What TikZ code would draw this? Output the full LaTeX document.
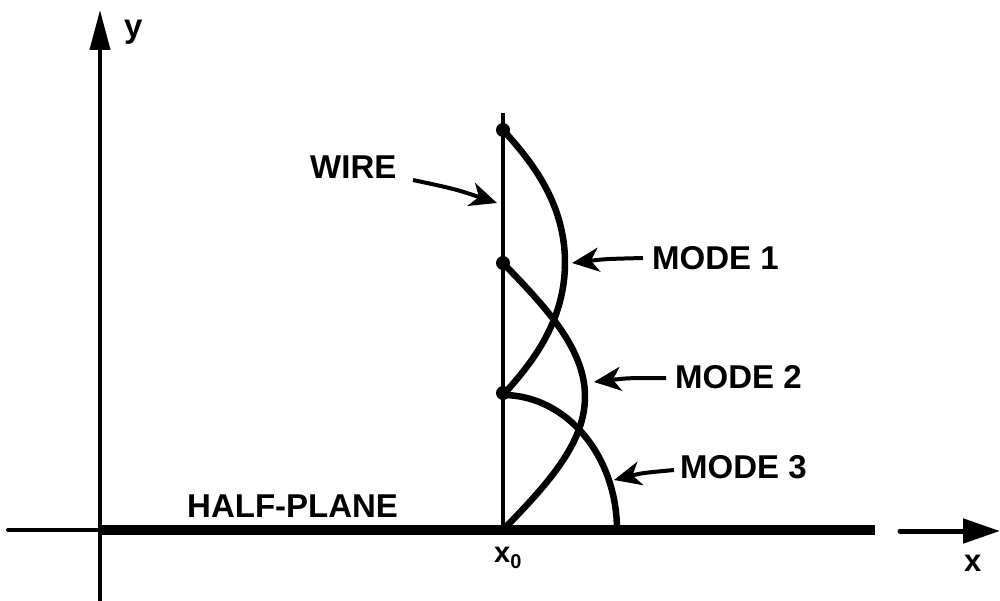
\documentclass[tikz,border=0pt]{standalone}
\usepackage{fontspec}
\setmainfont{Liberation Sans}
\usetikzlibrary{arrows.meta}
\begin{document}
\begin{tikzpicture}[x=1pt,y=-1pt,
  lbl/.style={font=\fontsize{33}{36}\selectfont\bfseries, inner sep=0pt, anchor=base west},
  axisline/.style={line width=4pt},
  mode/.style={line width=6.5pt, line cap=round},
  pointer/.style={line width=4pt, -{Stealth[length=27pt,width=24pt,inset=8pt]}},
  dot/.style={circle, fill, inner sep=0pt, minimum size=14pt}]
\useasboundingbox (0,0) rectangle (1000,601);
\fill[white] (0,0) rectangle (1000,601);

% axes
\coordinate (ybot) at (100,601);
\coordinate (ytop) at (100,10);
\draw[axisline, -{Triangle[length=40pt,width=20pt]}] (ybot) -- (ytop);
\coordinate (xl) at (8,530);
\coordinate (o) at (100,530);
\coordinate (hpend) at (875,530);
\draw[axisline, line cap=round] (xl) -- (o);
\draw[line width=10pt] (o) -- (hpend);
\coordinate (xs) at (900,531);
\coordinate (xe) at (1000,531);
\draw[line width=5pt, line cap=round, -{Triangle[length=37pt,width=24pt]}] (xs) -- (xe);

% wire
\coordinate (wtop) at (503,113);
\coordinate (wbot) at (503,530);
\draw[line width=3.2pt] (wtop) -- (wbot);

% modes
\draw[mode] plot[domain=0:180, samples=80] ({503+62*sin(\x)*(1.25-0.25*sin(\x))}, {130+\x/180*265});
\draw[mode] plot[domain=0:180, samples=80] ({503+82*sin(\x)}, {263+\x/180*267});
\draw[mode] plot[domain=0:90, samples=60] ({503+114*sin(\x)}, {530-135*cos(\x)});

\node[dot] (p1) at (503,130) {};
\node[dot] (p2) at (503,263) {};
\node[dot] (p3) at (503,393) {};

% labels
\node[lbl] (ylab) at (124,38) {y};
\node[lbl] (wire) at (310,179) {WIRE};
\node[lbl] (m1) at (652,270) {MODE 1};
\node[lbl] (m2) at (675,388) {MODE 2};
\node[lbl] (m3) at (680,478) {MODE 3};
\node[lbl] (hp) at (187,517) {HALF-PLANE};
\node[lbl, font=\fontsize{29}{30}\selectfont\bfseries] (x0) at (494,562) {x\raisebox{-6pt}{\fontsize{20}{20}\selectfont 0}};
\node[lbl, font=\fontsize{31}{32}\selectfont\bfseries] (xlab) at (964,571) {x};

% pointers
\coordinate (wA) at (413,180);
\coordinate (wT) at (497,203);
\draw[pointer] (wA) .. controls (455,189) .. (wT);
\coordinate (m1A) at (643,258);
\coordinate (m1T) at (572,263);
\draw[pointer] (m1A) .. controls (605,259) .. (m1T);
\coordinate (m2A) at (666,378);
\coordinate (m2T) at (594,382);
\draw[pointer] (m2A) .. controls (628,378) .. (m2T);
\coordinate (m3A) at (674,470);
\coordinate (m3T) at (614,480);
\draw[pointer] (m3A) .. controls (642,473) .. (m3T);
\end{tikzpicture}
\end{document}
